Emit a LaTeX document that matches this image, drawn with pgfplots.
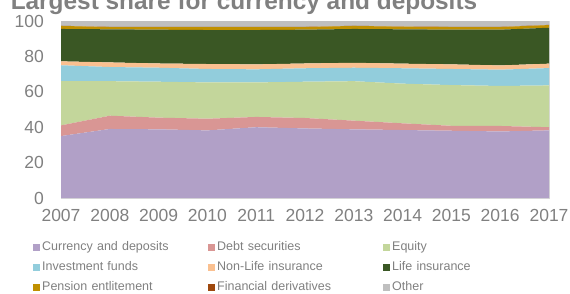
\documentclass[border=0pt]{standalone}
\usepackage{pgfplots}
\pgfplotsset{compat=1.18}
\usepackage{fontspec}
\setmainfont{Liberation Sans}
\definecolor{cCur}{HTML}{B1A0C7}
\definecolor{cDebt}{HTML}{D99694}
\definecolor{cEq}{HTML}{C3D69B}
\definecolor{cInv}{HTML}{92CDDC}
\definecolor{cNL}{HTML}{FAC090}
\definecolor{cLife}{HTML}{3A5724}
\definecolor{cPen}{HTML}{C09000}
\definecolor{cFin}{HTML}{9E480E}
\definecolor{cOth}{HTML}{BFBFBF}
\definecolor{cTxt}{HTML}{808080}
\definecolor{cAx}{HTML}{D9D9D9}
\begin{document}
\begin{tikzpicture}[x=1pt,y=1pt]
\node[anchor=base, font=\fontsize{24.4}{28}\selectfont\bfseries, text=cTxt, inner sep=0] at (244,283.5) {Largest share for currency and deposits};
\begin{axis}[
  at={(61pt,95pt)}, anchor=south west,
  scale only axis, width=488pt, height=177pt,
  xmin=2007, xmax=2017, ymin=0, ymax=100,
  xtick={2007,2008,...,2017}, ytick={0,20,...,100},
  major tick length=0pt,
  x tick label style={/pgf/number format/1000 sep={}, inner sep=0pt, yshift=-11pt},
  y tick label style={inner sep=0pt, xshift=-17pt},
  tick label style={font=\fontsize{17.5}{20}\selectfont, text=cTxt},
  /pgf/number format/assume math mode=true,
  axis line style={draw=cAx},
  stack plots=y,
  legend columns=3,
  legend image code/.code={\fill[#1] (0pt,-3.5pt) rectangle (7pt,3.5pt);},
  legend style={at={(-0.0574,-0.2203)}, anchor=north west, draw=none, fill=none, inner sep=0pt,
    font=\fontsize{12.5}{15}\selectfont, text=cTxt,
    cells={anchor=west},
    nodes={inner xsep=2pt, inner ysep=3.5pt, text height=10pt, text depth=3pt, text width=164pt, align=left}},
]
\addplot[fill=cCur, draw=none] table {
2007 35
2008 39
2009 38.8
2010 38.2
2011 40
2012 39.3
2013 38.8
2014 38.4
2015 38
2016 37.6
2017 38.2
} \closedcycle;
\addplot[fill=cDebt, draw=none] table {
2007 6
2008 7.5
2009 6.6
2010 6.6
2011 5.8
2012 5.9
2013 4.9
2014 3.8
2015 2.8
2016 3.1
2017 1.8
} \closedcycle;
\addplot[fill=cEq, draw=none] table {
2007 25.1
2008 19.5
2009 20.3
2010 20.5
2011 19.5
2012 20.5
2013 22.3
2014 22.4
2015 23.0
2016 22.6
2017 23.6
} \closedcycle;
\addplot[fill=cInv, draw=none] table {
2007 8.9
2008 8
2009 7.9
2010 7.6
2011 7.4
2012 7.6
2013 7.6
2014 8.7
2015 9.1
2016 9.2
2017 9.8
} \closedcycle;
\addplot[fill=cNL, draw=none] table {
2007 2.2
2008 2.6
2009 2.4
2010 2.8
2011 2.8
2012 2.7
2013 2.8
2014 2.6
2015 2.6
2016 2.4
2017 2.5
} \closedcycle;
\addplot[fill=cLife, draw=none] table {
2007 18.3
2008 18.7
2009 19.1
2010 19.2
2011 19.4
2012 19.1
2013 19.1
2014 19.4
2015 19.6
2016 20.2
2017 20.3
} \closedcycle;
\addplot[fill=cPen, draw=none] table {
2007 1.7
2008 1.3
2009 1.5
2010 1.7
2011 1.7
2012 1.5
2013 1.7
2014 1.5
2015 1.5
2016 1.5
2017 1.5
} \closedcycle;
\addplot[fill=cFin, draw=none] table {
2007 0.1
2008 0.1
2009 0.1
2010 0.1
2011 0.1
2012 0.1
2013 0.1
2014 0.1
2015 0.1
2016 0.1
2017 0.1
} \closedcycle;
\addplot[fill=cOth, draw=none] table {
2007 2.7
2008 3.3
2009 3.3
2010 3.3
2011 3.3
2012 3.3
2013 2.7
2014 3.1
2015 3.3
2016 3.3
2017 2.2
} \closedcycle;
\legend{Currency and deposits, Debt securities, Equity, Investment funds, Non-Life insurance, Life insurance, Pension entlitement, Financial derivatives, Other}
\end{axis}
\pgfresetboundingbox
\useasboundingbox (0,0) rectangle (570,293);
\end{tikzpicture}
\end{document}
